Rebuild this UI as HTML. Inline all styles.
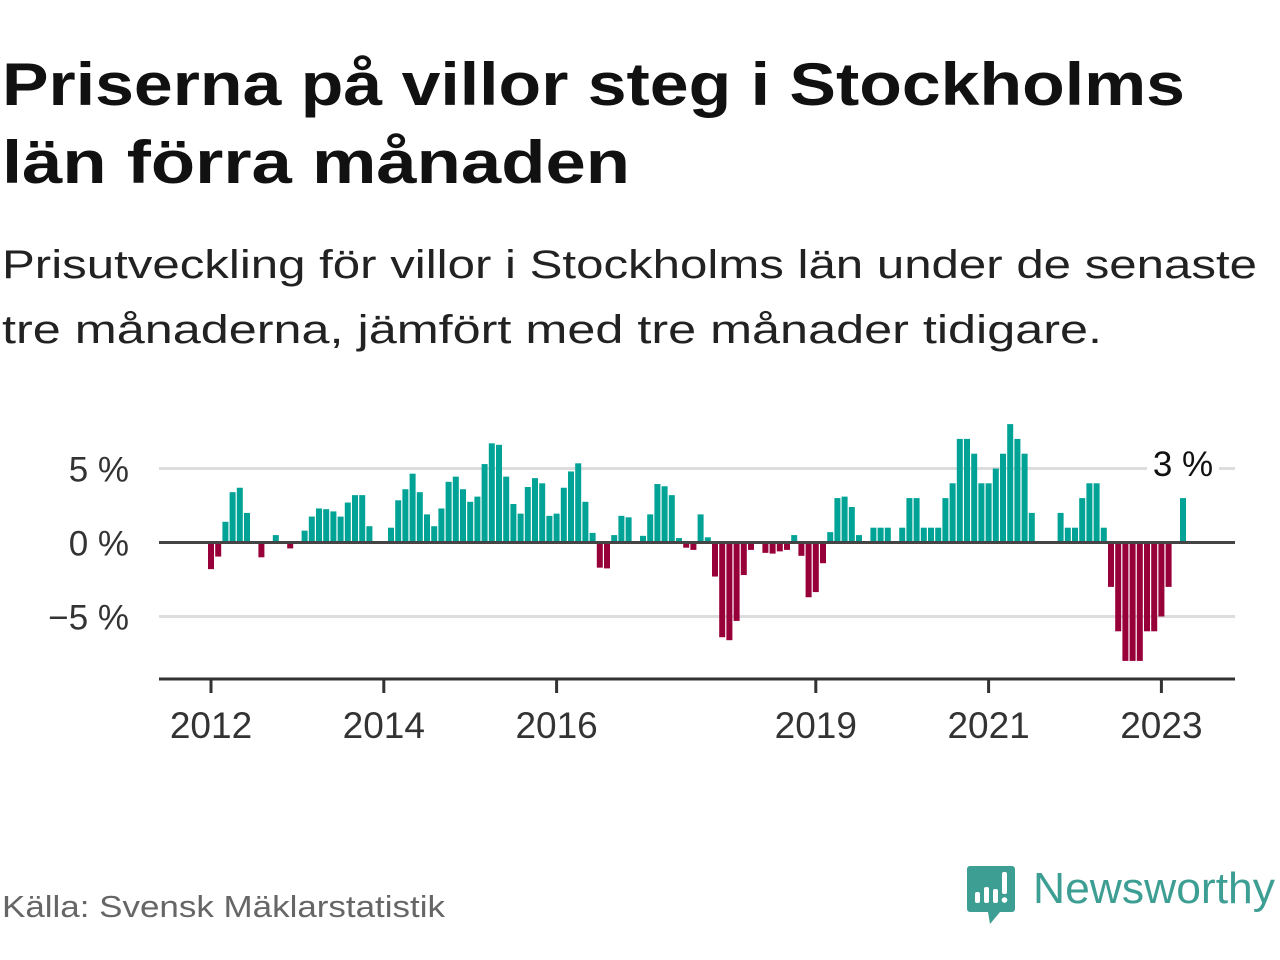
<!DOCTYPE html>
<html><head><meta charset="utf-8"><style>
html,body{margin:0;padding:0;background:#fff;}
svg{display:block;font-family:"Liberation Sans",sans-serif;}
</style></head><body>
<svg id="chart" width="1280" height="960" viewBox="0 0 1280 960" xmlns="http://www.w3.org/2000/svg">
<text x="2" y="105" font-size="60" font-weight="bold" fill="#111" textLength="1183" lengthAdjust="spacingAndGlyphs">Priserna på villor steg i Stockholms</text>
<text x="2" y="183" font-size="60" font-weight="bold" fill="#111" textLength="628" lengthAdjust="spacingAndGlyphs">län förra månaden</text>
<text x="2" y="278" font-size="40" fill="#222" textLength="1255" lengthAdjust="spacingAndGlyphs">Prisutveckling för villor i Stockholms län under de senaste</text>
<text x="2" y="343" font-size="40" fill="#222" textLength="1100" lengthAdjust="spacingAndGlyphs">tre månaderna, jämfört med tre månader tidigare.</text>
<g id="plot"></g>
<text x="2" y="917" font-size="31" fill="#666" textLength="443" lengthAdjust="spacingAndGlyphs">Källa: Svensk Mäklarstatistik</text>
<g>
<path d="M970 866 h42 a3 3 0 0 1 3 3 v40 a3 3 0 0 1 -3 3 h-12 l-10 12 l-2 -12 h-18 a3 3 0 0 1 -3 -3 v-40 a3 3 0 0 1 3 -3z" fill="#3d9e93"/>
<rect x="975" y="892" width="5" height="11" rx="2" fill="#fff"/>
<rect x="984" y="887" width="5" height="16" rx="2" fill="#fff"/>
<rect x="993" y="889" width="5" height="14" rx="2" fill="#fff"/>
<rect x="1002" y="872" width="5" height="22" rx="2" fill="#fff"/>
<circle cx="1004.5" cy="900" r="2.8" fill="#fff"/>
<text x="1033" y="903" font-size="44" fill="#3d9e93" textLength="242" lengthAdjust="spacingAndGlyphs">Newsworthy</text>
</g>
</svg>
<script>
const values = [-1.8,-0.95,1.4,3.4,3.7,2.0,0,-1.0,0,0.5,0,-0.4,0,0.8,1.75,2.3,2.25,2.1,1.75,2.7,3.2,3.2,1.1,0,0,1.0,2.85,3.6,4.65,3.4,1.9,1.1,2.3,4.1,4.45,3.6,2.75,3.1,5.3,6.7,6.6,4.45,2.6,1.95,3.75,4.35,4.0,1.8,1.95,3.7,4.8,5.35,2.75,0.65,-1.7,-1.75,0.5,1.8,1.7,0,0.45,1.9,3.95,3.8,3.2,0.3,-0.35,-0.5,1.9,0.35,-2.3,-6.4,-6.6,-5.3,-2.2,-0.5,0,-0.7,-0.75,-0.6,-0.5,0.5,-0.9,-3.7,-3.35,-1.4,0.7,3.0,3.1,2.4,0.5,0,1.0,1.0,1.0,0,1.0,3.0,3.0,1.0,1.0,1.0,3.0,4.0,7.0,7.0,6.0,4.0,4.0,5.0,6.0,8.0,7.0,6.0,2.0,0,0,0,2.0,1.0,1.0,3.0,4.0,4.0,1.0,-3.0,-6.0,-8.0,-8.0,-8.0,-6.0,-6.0,-5.0,-3.0,0,3.0];
const startYear = 2012;
const yTicks = [5,0,-5];
const yTickLabels = ["5 %","0 %","\u22125 %"];
const xTickYears = [2012,2014,2016,2019,2021,2023];
const lastLabel = "3 %";

const NS="http://www.w3.org/2000/svg";
const g=document.getElementById('plot');
const X0=211, MONTH=7.2, Y0=542.5, PPU=14.8, LEFT=159, RIGHT=1235;
function x(i){return X0+i*MONTH;}
function y(v){return Y0-v*PPU;}
function mk(t,a){const e=document.createElementNS(NS,t);for(const k in a)e.setAttribute(k,a[k]);g.appendChild(e);return e;}

yTicks.forEach((v,k)=>{
  if(v!==0){const l=mk('line',{x1:LEFT,x2:RIGHT,y1:y(v),y2:y(v),stroke:'#ddd','stroke-width':3});
  
  }
  const t=mk('text',{x:129,y:y(v)+13,'font-size':35,fill:'#333','text-anchor':'end'});
  t.textContent=yTickLabels[k];
  
  
});
values.forEach((v,i)=>{
  if(v===0)return;
  const top=Math.min(y(v),Y0), h=Math.abs(y(v)-Y0);
  const r=mk('rect',{x:x(i)-3,y:top,width:6,height:h,fill:v>0?'#00a396':'#98003a'});
  
  
});
const z=mk('line',{x1:LEFT,x2:RIGHT,y1:Y0,y2:Y0,stroke:'#444','stroke-width':3});


const ax=mk('line',{x1:LEFT,x2:RIGHT,y1:679,y2:679,stroke:'#333','stroke-width':3});


xTickYears.forEach(yr=>{
  const xi=x((yr-startYear)*12);
  const tk=mk('line',{x1:xi,x2:xi,y1:679,y2:693,stroke:'#333','stroke-width':3});
  
  
  const t=mk('text',{x:xi,y:738,'font-size':37,fill:'#333','text-anchor':'middle'});
  t.textContent=yr;
  
  
});
const li=values.length-1;
const bg=mk('rect',{x:x(li)-36,y:442,width:72,height:34,fill:'#fff'});


const lt=mk('text',{x:x(li),y:476,'font-size':35,fill:'#111','text-anchor':'middle'});
lt.textContent=lastLabel;


</script>
</body></html>
